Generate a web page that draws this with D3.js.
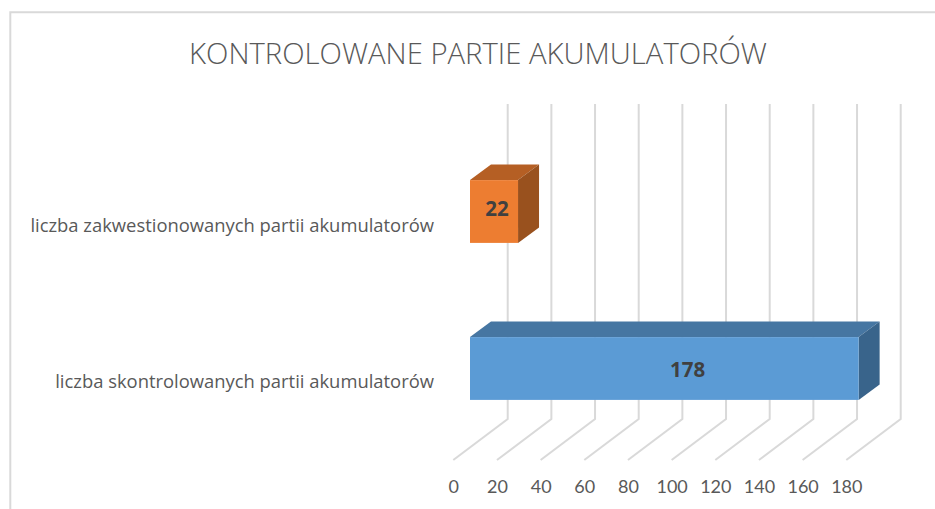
<!DOCTYPE html>
<html>
<head>
<meta charset="utf-8">
<script src="https://cdn.jsdelivr.net/npm/d3@7"></script>
<style>
  html, body { margin: 0; padding: 0; background: #fff; }
  svg { display: block; font-family: "Open Sans", Lato, sans-serif; }
</style>
</head>
<body>
<div id="chart"></div>
<script>
const chartTitle = 'KONTROLOWANE PARTIE AKUMULATORÓW';
const categories = ['liczba zakwestionowanych partii akumulatorów', 'liczba skontrolowanych partii akumulatorów'];
const values = [22, 178];
const ticks = [0, 20, 40, 60, 80, 100, 120, 140, 160, 180];

const W = 935, H = 509;
const svg = d3.select('#chart').append('svg').attr('width', W).attr('height', H);

// chart frame, only top and left are visible in the crop
svg.append('path').attr('d', `M10.3,${H}V12.2H${W}`)
  .attr('fill', 'none').attr('stroke', '#d9d9d9').attr('stroke-width', 2);

svg.append('text').attr('x', 478).attr('y', 63.5).attr('text-anchor', 'middle')
  .attr('font-size', 29.25).attr('font-weight', 300).attr('fill', '#595959').text(chartTitle);

// x runs along the front edge of the floor
const x = d3.scaleLinear().domain([0, 180]).range([453.3, 846.3]);
const y = d3.scaleBand().domain(categories).range([133, 447]).paddingInner(0.6).paddingOuter(0.3);

// 3d offsets
const floorY = 460;
const wallDx = 54.4, wallDy = 41, wallTop = 104;
const barFront = 16.7, barDx = 21, barDy = 15.5;

const grid = svg.append('g').attr('fill', 'none').attr('stroke', '#d9d9d9').attr('stroke-width', 2);
ticks.forEach(t => {
  grid.append('path').attr('d',
    `M${x(t)},${floorY}L${x(t) + wallDx},${floorY - wallDy}V${wallTop}`);
});

// tick labels
svg.append('g').selectAll('text').data(ticks).join('text')
  .attr('x', d => x(d) + 0.5).attr('y', 493).attr('text-anchor', 'middle')
  .attr('font-family', 'Lato, sans-serif')
  .attr('font-size', 18).attr('fill', '#595959').text(d => d);

const barColors = [
  {front: '#ed7d31', top: '#b55f24', side: '#99511e'},
  {front: '#5b9bd5', top: '#4676a2', side: '#39648b'}
];

const bars = svg.append('g');
categories.forEach((c, i) => {
  const x0 = x(0) + barFront;
  const x1 = x(values[i]) + barFront;
  const y0 = y(c), y1 = y(c) + y.bandwidth();
  const col = barColors[i];
  bars.append('path').attr('fill', col.top)
    .attr('d', `M${x0},${y0}L${x0 + barDx},${y0 - barDy}H${x1 + barDx}L${x1},${y0}Z`);
  bars.append('path').attr('fill', col.side)
    .attr('d', `M${x1},${y0}L${x1 + barDx},${y0 - barDy}V${y1 - barDy}L${x1},${y1}Z`);
  bars.append('rect').attr('x', x0).attr('y', y0).attr('width', x1 - x0).attr('height', y1 - y0)
    .attr('fill', col.front);
  // value labels don't sit on the face center in the original, they drift right and down
  svg.append('text').attr('x', x0 + (x1 - x0) * 0.56).attr('y', (y0 + y1) / 2 + (i ? 8.5 : 4))
    .attr('text-anchor', 'middle').attr('font-size', 20.5).attr('font-weight', 700)
    .attr('fill', '#404040').text(values[i]);
  // category label
  svg.append('text').attr('x', 434).attr('y', (y0 + y1) / 2 + (i ? 19 : 20))
    .attr('text-anchor', 'end').attr('font-size', 18.4).attr('fill', '#595959').text(c);
});
</script>
</body>
</html>
